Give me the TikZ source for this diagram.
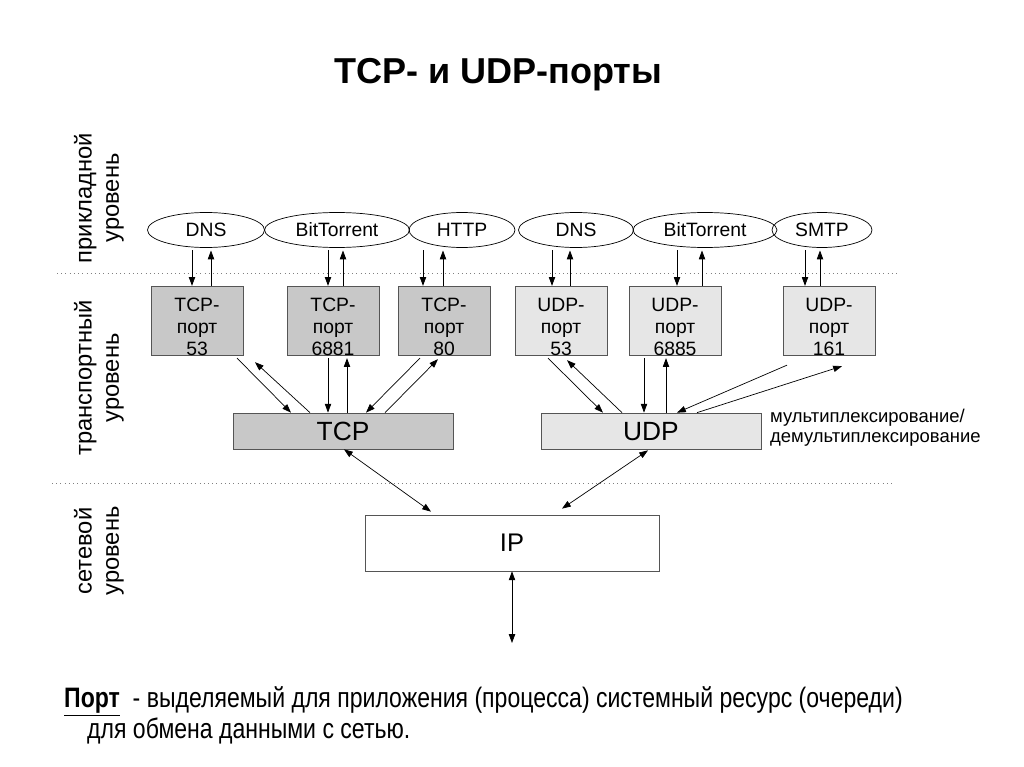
\documentclass[tikz,border=0pt]{standalone}
\usepackage{fontspec}
\setmainfont{Liberation Sans}
\newfontfamily\narrowfont[FakeStretch=0.82]{Liberation Sans}
\usetikzlibrary{shapes.geometric,arrows.meta,calc}

\definecolor{tcpgray}{RGB}{200,200,200}
\definecolor{udpgray}{RGB}{230,230,230}
\definecolor{edgegray}{RGB}{85,85,85}

\tikzset{
  app/.style={ellipse, draw=black, thin, inner sep=0pt, minimum height=0.7cm,
    font=\fontsize{11}{12}\selectfont},
  port/.style={rectangle, draw=edgegray, thin, minimum width=1.84cm, minimum height=1.32cm,
    inner sep=0pt, align=center, font=\fontsize{11}{12.5}\selectfont},
  tcpport/.style={port, fill=tcpgray},
  udpport/.style={port, fill=udpgray},
  bar/.style={rectangle, draw=edgegray, thin, minimum width=4.4cm, minimum height=0.72cm,
    inner sep=0pt, text height=10.8pt, text depth=0pt, font=\fontsize{15}{17}\selectfont},
  layer/.style={rotate=90, align=center, font=\fontsize{13.5}{15.5}\selectfont},
  arr/.style={thin, -{Triangle[length=5pt,width=3.6pt]}},
  darr/.style={thin, {Triangle[length=5pt,width=3.6pt]}-{Triangle[length=5pt,width=3.6pt]}},
  sep/.style={gray, dotted, thin}
}
% port label: protocol, number
\newcommand\portlbl[2]{\rule{0pt}{14.5pt}#1-\\порт\\#2}

\begin{document}
\begin{tikzpicture}[x=0.02cm, y=-0.02cm]
  \useasboundingbox (0,0) rectangle (1024,767);

  % Title
  \node[font=\fontsize{20.5}{22}\selectfont\bfseries] (title) at (498,75) {TCP- и UDP-порты};

  % Layer separators
  \draw[sep] (57,273) -- (900,273);
  \draw[sep] (52,483) -- (895,483);

  % Layer names
  \node[layer] (lapp) at (99,198) {прикладной\\уровень};
  \node[layer] (ltrans) at (99,378) {транспортный\\уровень};
  \node[layer] (lnet) at (99,551) {сетевой\\уровень};

  % Applications
  \node[app, minimum width=2.34cm] (dnsA) at (206,230) {DNS};
  \node[app, minimum width=2.9cm] (btA) at (337,230) {BitTorrent};
  \node[app, minimum width=2.12cm] (http) at (462,230) {HTTP};
  \node[app, minimum width=2.3cm] (dnsB) at (576,230) {DNS};
  \node[app, minimum width=2.88cm] (btB) at (705,230) {BitTorrent};
  \node[app, minimum width=2.0cm] (smtp) at (822,230) {SMTP};

  % Ports
  \node[tcpport] (tcpA) at (197,321) {\portlbl{TCP}{53}};
  \node[tcpport] (tcpB) at (333,321) {\portlbl{TCP}{6881}};
  \node[tcpport] (tcpC) at (444,321) {\portlbl{TCP}{80}};
  \node[udpport] (udpA) at (561,321) {\portlbl{UDP}{53}};
  \node[udpport] (udpB) at (675,321) {\portlbl{UDP}{6885}};
  \node[udpport] (udpC) at (829,321) {\portlbl{UDP}{161}};

  % Transport protocols
  \node[bar, fill=tcpgray] (tcp) at (343,431) {TCP};
  \node[bar, fill=udpgray] (udp) at (651,431) {UDP};
  \node[anchor=west, align=left, font=\fontsize{10.5}{11.5}\selectfont] (mux) at (764,428)
    {мультиплексирование/\\демультиплексирование};

  % Network layer
  \node[rectangle, draw=edgegray, thin, minimum width=5.88cm, minimum height=1.12cm,
    font=\fontsize{14.5}{16}\selectfont] (ip) at (512,543) {IP};
  \coordinate (ipout) at (512,643);

  % Application <-> port
  \foreach \e/\p/\a/\b in {dnsA/tcpA/-5/14, btA/tcpB/-5/10, http/tcpC/-21/-1,
                          dnsB/udpA/-9/9, btB/udpB/2/27, smtp/udpC/-24/-9} {
    \draw[arr, shorten <=1.5pt] ([xshift=\a*0.02cm]\p.north |- \e.south) -- ([xshift=\a*0.02cm]\p.north);
    \draw[arr, shorten >=1.5pt] ([xshift=\b*0.02cm]\p.north) -- ([xshift=\b*0.02cm]\p.north |- \e.south);
  }

  % Port <-> transport
  \foreach \f/\fx/\fy/\t/\tx/\ty in {
      tcpA.south/40/2/tcp.north/-52/0, tcp.north/-33/0/tcpA.south/58/6,
      tcpB.south/-5/2/tcp.north/-15/0, tcp.north/4/0/tcpB.south/14/2,
      tcpC.south/-24/2/tcp.north/23/0, tcp.north/42/0/tcpC.south/-6/3,
      udpA.south/-13/2/udp.north/-48/0, udp.north/-29/0/udpA.south/6/4,
      udpB.south/-31/2/udp.north/-7/0, udp.north/15/0/udpB.south/-9/2,
      udpC.south/-42/9/udp.north/26/0, udp.north/46/0/udpC.south/13/10} {
    \draw[arr] ($(\f)+(\fx,\fy)$) -- ($(\t)+(\tx,\ty)$);
  }

  % Transport <-> IP
  \draw[darr] ($(tcp.south)+(1,0)$) -- ($(ip.north)+(-81,-3)$);
  \draw[darr] ($(udp.south)+(-3,1)$) -- ($(ip.north)+(50,-6)$);
  \draw[darr] (ip.south) -- (ipout);

  % Definition
  \node[anchor=north west, align=left, font=\narrowfont\fontsize{16}{18}\selectfont] (def) at (58,680)
    {\underline{\textbf{Порт}}\ \ - выделяемый для приложения (процесса) системный ресурс (очереди)\\
     \hspace*{0.46cm}для обмена данными с сетью.};
\end{tikzpicture}
\end{document}
